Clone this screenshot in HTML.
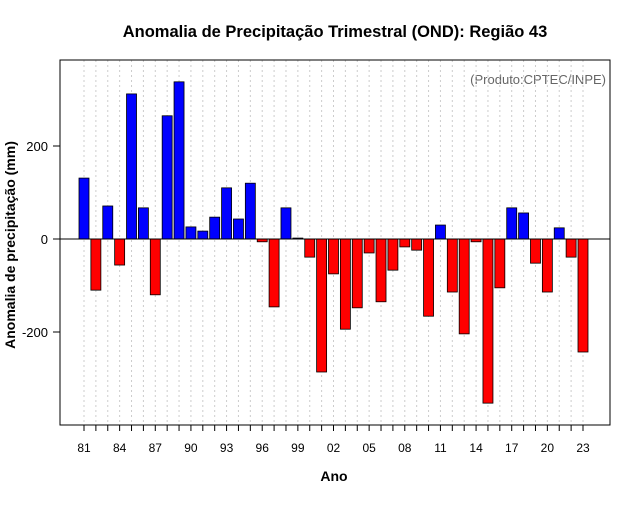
<!DOCTYPE html>
<html><head><meta charset="utf-8"><style>
body{margin:0;background:#fff;font-family:"Liberation Sans",sans-serif}
</style></head><body>
<svg id="c" width="640" height="500" xmlns="http://www.w3.org/2000/svg">
<rect width="640" height="500" fill="#fff"/>
<text x="335" y="37" text-anchor="middle" font-size="16.5" font-weight="bold">Anomalia de Precipitação Trimestral (OND): Região 43</text>
<text x="606" y="84" text-anchor="end" font-size="13" fill="#666">(Produto:CPTEC/INPE)</text>
<text x="334" y="481" text-anchor="middle" font-size="14" font-weight="bold">Ano</text>
<text transform="translate(15,245) rotate(-90)" text-anchor="middle" font-size="14" font-weight="bold">Anomalia de precipitação (mm)</text>
<g id="grid"></g><g id="bars"></g><g id="axes"></g>
<rect x="60" y="60" width="550" height="365" fill="none" stroke="#000"/>
</svg>
<script>
const years=[81,82,83,84,85,86,87,88,89,90,91,92,93,94,95,96,97,98,99,0,1,2,3,4,5,6,7,8,9,10,11,12,13,14,15,16,17,18,19,20,21,22,23];
const values=[131,-110,71,-56,312,67,-120,265,338,26,17,47,110,43,120,-6,-146,67,2,-39,-286,-75,-194,-148,-30,-135,-67,-17,-24,-166,30,-114,-204,-6,-353,-105,67,56,-52,-114,24,-39,-243];
const yTicks=[-200,0,200];
const xTickLabels=["81","84","87","90","93","96","99","02","05","08","11","14","17","20","23"];
const NS="http://www.w3.org/2000/svg";
const x=i=>84+i*(583-84)/(years.length-1);
const y=v=>239-v*0.465;
function mk(t,a,p){const e=document.createElementNS(NS,t);for(const k in a)e.setAttribute(k,a[k]);p.appendChild(e);return e;}
const g=document.getElementById('grid'),b=document.getElementById('bars'),ax=document.getElementById('axes');
years.forEach((yr,i)=>{const l=mk('line',{x1:x(i),x2:x(i),y1:60,y2:425,stroke:'#ccc','stroke-dasharray':'2,3'},g);

});
values.forEach((v,i)=>{const y0=y(0),y1=y(v);
const r=mk('rect',{x:x(i)-5,y:Math.min(y0,y1),width:10,height:Math.abs(y1-y0),fill:v>=0?'#0000ff':'#ff0000',stroke:'#000','stroke-width':0.8},b);

});
const zl=mk('line',{x1:60,x2:610,y1:y(0),y2:y(0),stroke:'#000'},ax);


yTicks.forEach(t=>{mk('line',{x1:53,x2:60,y1:y(t),y2:y(t),stroke:'#000'},ax);
const tx=mk('text',{x:48,y:y(t)+5,'text-anchor':'end','font-size':13},ax);tx.textContent=t;

});
years.forEach((yr,i)=>{mk('line',{x1:x(i),x2:x(i),y1:425,y2:431,stroke:'#000'},ax);});
xTickLabels.forEach((lab,j)=>{const i=j*3;
const tx=mk('text',{x:x(i),y:452,'text-anchor':'middle','font-size':12},ax);tx.textContent=lab;

});
</script>
</body></html>
